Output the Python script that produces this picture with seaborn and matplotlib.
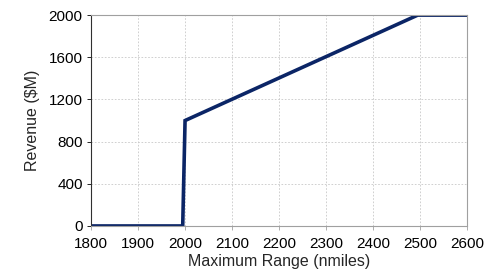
import numpy as np
import pandas as pd
import matplotlib
matplotlib.use('Agg')
import matplotlib.pyplot as plt
import seaborn as sns

sns.set_style('white')
plt.rcParams['font.family'] = ['Liberation Sans', 'DejaVu Sans']

# values
max_range = [1800, 1995, 2000, 2495, 2600]
revenue = [0, 0, 1000, 2000, 2000]
x_ticks = [1800, 1900, 2000, 2100, 2200, 2300, 2400, 2500, 2600]
y_ticks = [0, 400, 800, 1200, 1600, 2000]

df = pd.DataFrame({'range': max_range, 'revenue': revenue})

fig, ax = plt.subplots(figsize=(4.87, 2.8), dpi=100)
sns.lineplot(data=df, x='range', y='revenue', ax=ax, color='#0b2566',
             linewidth=2.6, sort=False, solid_joinstyle='miter')

ax.set_xlim(1800, 2600)
ax.set_ylim(0, 2000)
ax.set_xticks(x_ticks)
ax.set_yticks(y_ticks)
ax.grid(True, color='#c8c8c8', linestyle=(0, (2, 2)), linewidth=0.6)
ax.set_axisbelow(True)

for side in ['top', 'right', 'bottom']:
    ax.spines[side].set_color('#a0a0a0')
    ax.spines[side].set_linewidth(0.8)
ax.spines['left'].set_color('#303030')
ax.spines['left'].set_linewidth(0.8)

ax.tick_params(axis='both', labelsize=11, colors='#000000', length=3,
               width=0.6, direction='out', left=True, bottom=True)
ax.tick_params(axis='y', pad=3)
ax.tick_params(axis='x', color='#a0a0a0', pad=5)
ax.set_xlabel('Maximum Range (nmiles)', fontsize=11.5, labelpad=2)
ax.set_ylabel('Revenue ($M)', fontsize=11.5, labelpad=6)

fig.subplots_adjust(left=0.187, right=0.959, top=0.946, bottom=0.193)
fig.savefig('out.png', dpi=100)
